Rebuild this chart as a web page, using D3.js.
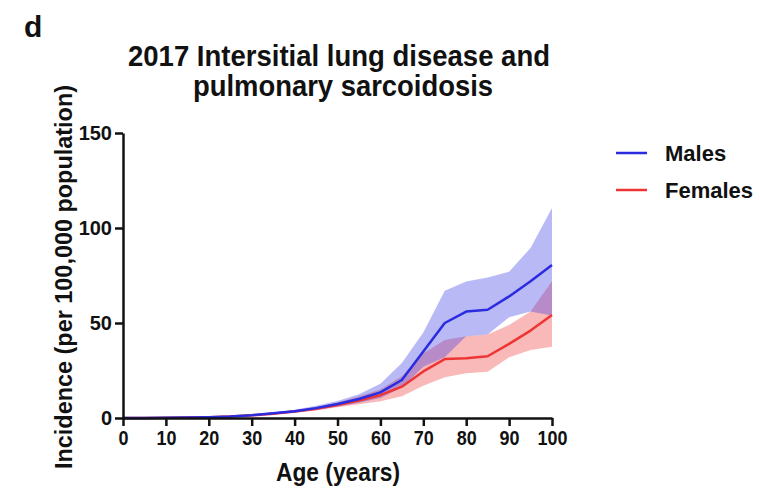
<!DOCTYPE html>
<html>
<head>
<meta charset="utf-8">
<script src="https://cdn.jsdelivr.net/npm/d3@7"></script>
<style>
  body { margin: 0; background: #fff; }
  svg text { font-family: "Liberation Sans", Arial, sans-serif; font-weight: bold; fill: #111; }
</style>
</head>
<body>
<div id="chart"></div>
<script>
// age groups (years)
const ages = [0, 5, 10, 15, 20, 25, 30, 35, 40, 45, 50, 55, 60, 65, 70, 75, 80, 85, 90, 95, 100];

// incidence per 100,000 with uncertainty band
const malesMean   = [0, 0.05, 0.1, 0.2, 0.4, 0.8, 1.5, 2.5, 3.6, 5.2, 7.4, 10, 13.5, 20, 35, 50, 56, 57, 64, 72, 80.5];
const malesLow    = [0, 0.03, 0.07, 0.15, 0.3, 0.6, 1.2, 2.0, 2.9, 4.2, 6.0, 8.0, 10.5, 16, 27, 32, 43, 44, 53, 56, 54];
const malesHigh   = [0, 0.08, 0.15, 0.3, 0.55, 1.0, 1.9, 3.0, 4.4, 6.4, 9.0, 12.5, 18, 29, 45, 67, 71.8, 74, 77, 89.5, 110.5];
const femalesMean = [0, 0.05, 0.1, 0.2, 0.4, 0.8, 1.4, 2.3, 3.4, 4.8, 6.8, 9.2, 12, 16.5, 24.5, 31, 31.5, 32.5, 39, 46, 54.2];
const femalesLow  = [0, 0.03, 0.07, 0.15, 0.3, 0.6, 1.1, 1.9, 2.8, 4.0, 5.6, 7.2, 8.8, 11.5, 17, 21.5, 23.6, 24.4, 32, 35.8, 37.5];
const femalesHigh = [0, 0.08, 0.15, 0.3, 0.55, 1.0, 1.8, 2.8, 4.1, 5.8, 8.2, 11.5, 15, 22, 34, 41, 43, 44, 49, 56, 72];

const xTicks = [0, 10, 20, 30, 40, 50, 60, 70, 80, 90, 100];
const yTicks = [0, 50, 100, 150];

const width = 760, height = 491;
const margin = { top: 133, right: 208, bottom: 73, left: 123 };

let svg = d3.select("#chart").append("svg")
    .attr("width", width)
    .attr("height", height);

let x = d3.scaleLinear()
    .domain([0, 100])
    .range([margin.left, width - margin.right]);

let y = d3.scaleLinear()
    .domain([0, 150])
    .range([height - margin.bottom, margin.top]);

let series = [
    { name: "Females", mean: femalesMean, low: femalesLow, high: femalesHigh, line: "#ee3535", fill: "#f03232" },
    { name: "Males",   mean: malesMean,   low: malesLow,   high: malesHigh,   line: "#2b2be0", fill: "#3232e6" }
];

// bands first, red under blue
series.forEach(s => {
    let area = d3.area()
        .x((d, i) => x(ages[i]))
        .y0((d, i) => y(s.low[i]))
        .y1((d, i) => y(s.high[i]));
    svg.append("path")
        .datum(ages)
        .attr("d", area)
        .attr("fill", s.fill)
        .attr("fill-opacity", 0.34)
        .attr("stroke", "none");
});

series.forEach(s => {
    let line = d3.line()
        .x((d, i) => x(ages[i]))
        .y((d, i) => y(s.mean[i]));
    svg.append("path")
        .datum(ages)
        .attr("d", line)
        .attr("fill", "none")
        .attr("stroke", s.line)
        .attr("stroke-width", 2.5)
        .attr("stroke-linejoin", "round");
});

// axes
let xAxis = d3.axisBottom(x).tickValues(xTicks).tickSize(8).tickPadding(5).tickSizeOuter(0);
let yAxis = d3.axisLeft(y).tickValues(yTicks).tickSize(8).tickPadding(3).tickSizeOuter(0);

let gx = svg.append("g")
    .attr("transform", `translate(0, ${y(0)})`)
    .call(xAxis);
let gy = svg.append("g")
    .attr("transform", `translate(${x(0)}, 0)`)
    .call(yAxis);

[gx, gy].forEach(g => {
    g.select(".domain").attr("stroke", "#111").attr("stroke-width", 2.5);
    g.selectAll(".tick line").attr("stroke", "#111").attr("stroke-width", 2.5);
    g.selectAll(".tick text")
        .style("font-size", "20px")
        .style("font-family", "'Liberation Sans', Arial, sans-serif")
        .style("font-weight", "bold")
        .attr("fill", "#111");
});
gx.selectAll(".tick text").attr("textLength", d => String(d).length * 10).attr("lengthAdjust", "spacingAndGlyphs");

// titles
svg.append("text")
    .attr("x", 24).attr("y", 37)
    .style("font-size", "30px")
    .text("d");

let title = svg.append("text")
    .attr("text-anchor", "middle")
    .style("font-size", "29px");
title.append("tspan").attr("x", 339).attr("y", 66)
    .attr("textLength", 422).attr("lengthAdjust", "spacingAndGlyphs")
    .text("2017 Intersitial lung disease and");
title.append("tspan").attr("x", 343).attr("y", 96)
    .attr("textLength", 300).attr("lengthAdjust", "spacingAndGlyphs")
    .text("pulmonary sarcoidosis");

svg.append("text")
    .attr("text-anchor", "middle")
    .attr("x", 338)
    .attr("y", 481)
    .attr("textLength", 124).attr("lengthAdjust", "spacingAndGlyphs")
    .style("font-size", "25px")
    .text("Age (years)");

svg.append("text")
    .attr("text-anchor", "middle")
    .attr("transform", "translate(72, 277) rotate(-90)")
    .attr("textLength", 384).attr("lengthAdjust", "spacingAndGlyphs")
    .style("font-size", "24px")
    .text("Incidence (per 100,000 population)");

// legend
let legend = svg.append("g").attr("transform", "translate(616, 153)");
[series[1], series[0]].forEach((s, i) => {
    let g = legend.append("g").attr("transform", `translate(0, ${i * 37})`);
    g.append("line")
        .attr("x1", 0).attr("x2", 31)
        .attr("stroke", s.line)
        .attr("stroke-width", 2.5);
    g.append("text")
        .attr("x", 49).attr("y", 8)
        .style("font-size", "22px")
        .text(s.name);
});
</script>
</body>
</html>
